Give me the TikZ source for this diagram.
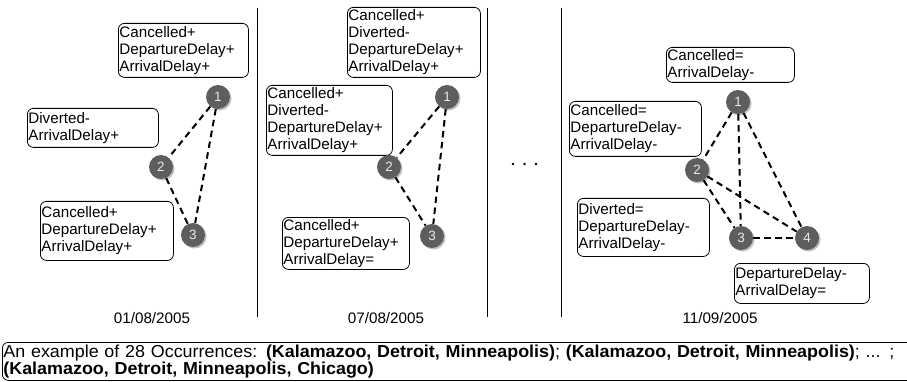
\documentclass[tikz,border=0pt]{standalone}
\usepackage{fontspec}
\setmainfont{Liberation Sans}
\newfontfamily\capfont[FakeStretch=1.035]{Liberation Sans}
\usetikzlibrary{shadows}
\definecolor{nodegray}{HTML}{5E5E5E}
\definecolor{numcol}{HTML}{E8E8E8}
\begin{document}
\begin{tikzpicture}[x=1pt,y=-1pt,
  lbl/.style={draw=black, line width=0.8pt, rounded corners=6pt, inner sep=1pt, align=left, anchor=north west, font=\fontsize{15.2}{17}\selectfont},
  ev/.style={circle, fill=nodegray, text=numcol, minimum size=24pt, inner sep=0pt, font=\fontsize{13.5}{13.5}\selectfont,
    drop shadow={shadow xshift=1.5pt, shadow yshift=-1.5pt, fill=black!35, opacity=0.7}},
  rel/.style={line width=2pt, dash pattern=on 6.5pt off 4.5pt},
  sepline/.style={line width=0.8pt},
  datelbl/.style={font=\fontsize{15.2}{17}\selectfont, inner sep=0pt}
]
\useasboundingbox (0,0) rectangle (907,382);
\clip (0,0) rectangle (907,382);
\fill[white] (0,0) rectangle (907,382);

% separators
\draw[sepline] (257,8) -- (257,317);
\draw[sepline] (487,8) -- (487,317);
\draw[sepline] (561,8) -- (561,317);

% dots
\fill (513,164) circle (1.4pt);
\fill (524.5,164) circle (1.4pt);
\fill (536,164) circle (1.4pt);

% panel 1
\node[lbl, text width=128pt, minimum height=54pt] (a1) at (118,23) {Cancelled+\\DepartureDelay+\\ArrivalDelay+};
\node[lbl, text width=129pt, minimum height=39pt] (a2) at (27,108) {Diverted-\\ArrivalDelay+};
\node[lbl, text width=131pt, minimum height=59pt] (a3) at (40,201) {Cancelled+\\DepartureDelay+\\ArrivalDelay+};
\node[ev] (p1n1) at (218,97) {1};
\node[ev] (p1n2) at (161,167) {2};
\node[ev] (p1n3) at (193,235) {3};
\draw[rel] (p1n1) -- (p1n2);
\draw[rel] (p1n2) -- (p1n3);
\draw[rel] (p1n1) -- (p1n3);

% panel 2
\node[lbl, text width=131pt, minimum height=70pt] (b1) at (347,7) {Cancelled+\\Diverted-\\DepartureDelay+\\ArrivalDelay+};
\node[lbl, text width=124pt, minimum height=70pt] (b2) at (266,85) {Cancelled+\\Diverted-\\DepartureDelay+\\ArrivalDelay+};
\node[lbl, text width=125pt, minimum height=52pt] (b3) at (282,217) {Cancelled+\\DepartureDelay+\\ArrivalDelay=};
\node[ev] (p2n1) at (447,97) {1};
\node[ev] (p2n2) at (389,167) {2};
\node[ev] (p2n3) at (432,236) {3};
\draw[rel] (p2n1) -- (p2n2);
\draw[rel] (p2n2) -- (p2n3);
\draw[rel] (p2n1) -- (p2n3);

% panel 3
\node[lbl, text width=126pt, minimum height=35pt] (c1) at (666,47) {Cancelled=\\ArrivalDelay-};
\node[lbl, text width=130pt, minimum height=55pt] (c2) at (569,101) {Cancelled=\\DepartureDelay-\\ArrivalDelay-};
\node[lbl, text width=130pt, minimum height=58pt] (c3) at (577,198) {Diverted=\\DepartureDelay-\\ArrivalDelay-};
\node[lbl, text width=133pt, minimum height=40pt] (c4) at (734,263) {DepartureDelay-\\ArrivalDelay=};
\node[ev] (p3n1) at (738,102) {1};
\node[ev] (p3n2) at (697,170) {2};
\node[ev] (p3n3) at (741,238) {3};
\node[ev] (p3n4) at (807,238) {4};
\draw[rel] (p3n1) -- (p3n2);
\draw[rel] (p3n1) -- (p3n3);
\draw[rel] (p3n1) -- (p3n4);
\draw[rel] (p3n2) -- (p3n3);
\draw[rel] (p3n2) -- (p3n4);
\draw[rel] (p3n3) -- (p3n4);

% dates
\node[datelbl] (d1) at (152,318) {01/08/2005};
\node[datelbl] (d2) at (386,318) {07/08/2005};
\node[datelbl] (d3) at (720,318) {11/09/2005};

% caption
\node[lbl, text width=940pt, minimum height=38pt, font=\capfont\fontsize{17.3}{17}\selectfont] (cap) at (2,342) {An example of 28 Occurrences: \textbf{(Kalamazoo, Detroit, Minneapolis)}; \textbf{(Kalamazoo, Detroit, Minneapolis)}; ... ;\\\textbf{(Kalamazoo, Detroit, Minneapolis, Chicago)}};
\end{tikzpicture}
\end{document}
